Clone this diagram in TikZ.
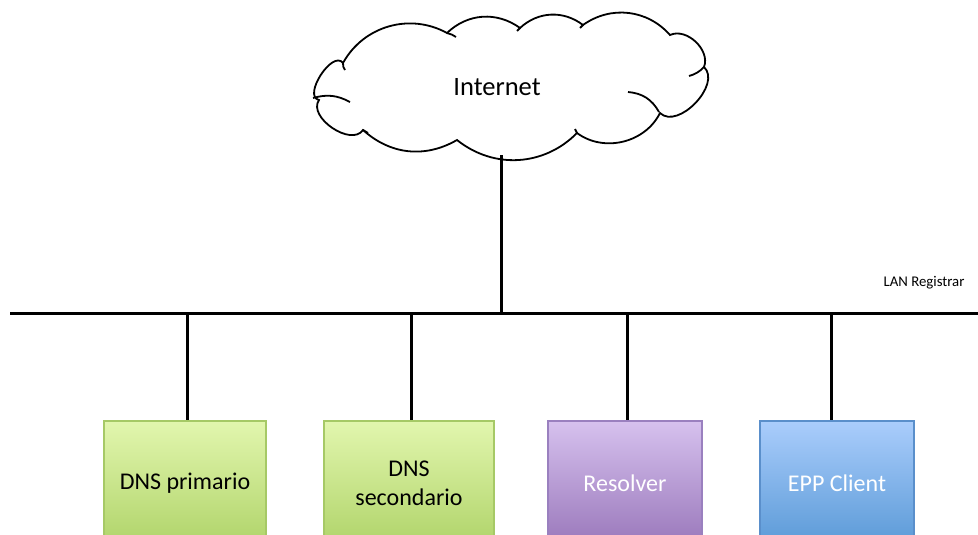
\documentclass[tikz,border=0pt]{standalone}
\usepackage{fontspec}
\setmainfont{Carlito}
\definecolor{gtop}{HTML}{E2F6AE}
\definecolor{gbot}{HTML}{B0D46A}
\definecolor{gline}{HTML}{A6C966}
\definecolor{ptop}{HTML}{D6C1EE}
\definecolor{pbot}{HTML}{9A78BB}
\definecolor{pline}{HTML}{9A80BF}
\definecolor{btop}{HTML}{AACDFC}
\definecolor{bbot}{HTML}{5B9AD7}
\definecolor{bline}{HTML}{5A8FCB}
\begin{document}
\begin{tikzpicture}[x=1pt,y=-1pt,
  wire/.style={line width=3pt, black},
  cloudline/.style={line width=1.8pt, black},
  hostbox/.style={rectangle, inner sep=0pt, minimum height=124pt, line width=1.3pt,
    align=center, font=\fontsize{24}{29}\selectfont}]
\useasboundingbox (0,0) rectangle (978,535);
\clip (0,0) rectangle (978,535);
% cloud
\draw[cloudline, fill=white] (343,63) to[bend left=45] (447,33) to[bend left=40] (520,28)
  to[bend left=40] (583,25) to[bend left=42] (670,35) to[bend left=68] (704,67)
  to[bend left=90] (660,113) to[bend left=50] (577,133) to[bend left=42] (457,140)
  to[bend left=36] (363,130) to[bend left=90] (319,100) to[bend left=110] (343,63) -- cycle;
\draw[cloudline] (313,98) to[bend left=22] (350,102);
\draw[cloudline] (628,92) to[bend left=28] (659,112);
\draw[cloudline] (689,76) to[bend right=15] (704,67);
\draw[cloudline] (343,63) to[bend right=20] (345,70);
\draw[cloudline] (447,33) to[bend left=10] (456,37);
\draw[cloudline] (520,28) -- (517,31);
\draw[cloudline] (583,25) -- (580,28);
\draw[cloudline] (577,133) -- (575,129);
\draw[cloudline] (363,130) -- (368,133);
\node[font=\fontsize{26.5}{31}\selectfont] (inet) at (497,87) {Internet};
\coordinate (cloudbot) at (501,155);
% bus
\coordinate (busL) at (10,313);
\coordinate (busR) at (978,313);
\coordinate (tap0) at (501,313);
\coordinate (tap1) at (187,313);
\coordinate (tap2) at (411,313);
\coordinate (tap3) at (627,313);
\coordinate (tap4) at (831,313);
\draw[wire] (busL) -- (busR);
\draw[wire] (cloudbot) -- (tap0);
\node[anchor=east, font=\fontsize{14.8}{17}\selectfont] (lan) at (968,283) {LAN Registrar};
% hosts
\node[hostbox, minimum width=162pt, draw=gline, top color=gtop, bottom color=gbot] (b1) at (185,483) {DNS primario};
\node[hostbox, minimum width=170pt, draw=gline, top color=gtop, bottom color=gbot] (b2) at (409,483) {DNS\\secondario};
\node[hostbox, minimum width=154pt, draw=pline, top color=ptop, bottom color=pbot, text=white] (b3) at (625,483) {Resolver};
\node[hostbox, minimum width=154pt, draw=bline, top color=btop, bottom color=bbot, text=white] (b4) at (837,483) {EPP Client};
\draw[wire] (tap1) -- (tap1 |- b1.north);
\draw[wire] (tap2) -- (tap2 |- b2.north);
\draw[wire] (tap3) -- (tap3 |- b3.north);
\draw[wire] (tap4) -- (tap4 |- b4.north);
\end{tikzpicture}
\end{document}
